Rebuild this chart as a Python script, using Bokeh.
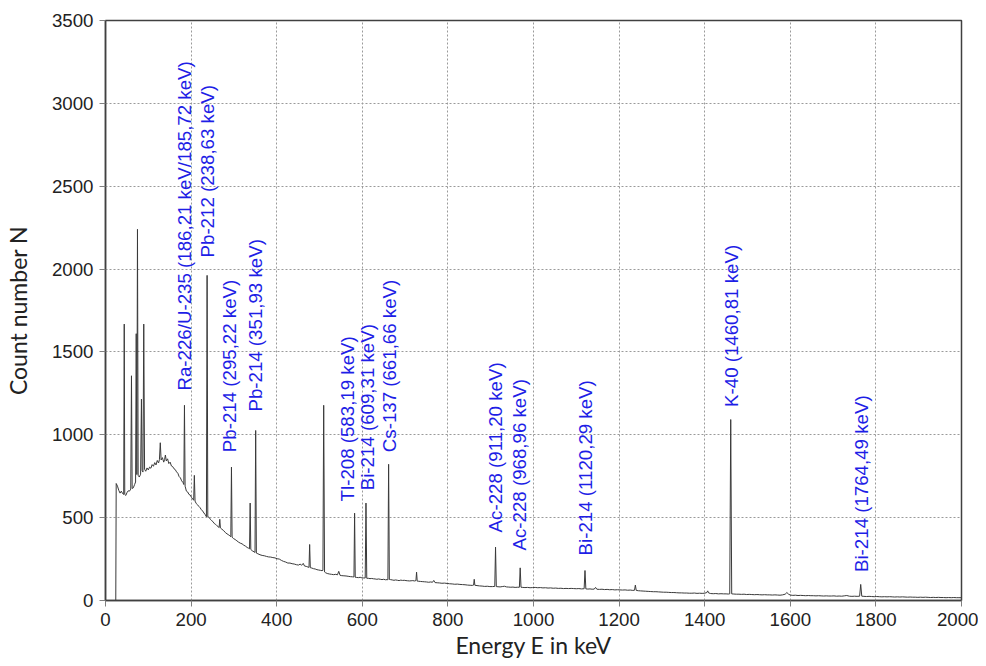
import math
from bokeh.plotting import figure
from bokeh.models import ColumnDataSource, Range1d, FixedTicker
from bokeh.core.properties import value
from bokeh.embed import file_html
from bokeh.resources import INLINE

# ---------------- data ----------------
# gamma spectrum: (energy in keV, count number)
spectrum = [
    (24, 0), (25, 706), (28, 690), (31, 665), (34, 648), (37, 660), (40, 645), (42.5, 640),
    (43.8, 1668), (45, 640), (47.5, 634), (50, 650), (53, 662), (56, 660), (59, 672),
    (60.7, 1356), (62.3, 676), (65, 680), (68, 700), (70.3, 715), (71.8, 1610), (73.2, 760),
    (74.7, 2240), (76.3, 755), (79, 745), (82, 762), (84, 1215), (85.5, 785), (87.5, 775),
    (89.4, 1668), (91.3, 792), (94, 780), (97, 800), (100, 788), (103, 805), (106, 798),
    (109, 820), (112, 810), (115, 832), (118, 818), (121, 845), (124, 830), (126, 850),
    (128, 952), (130, 848), (133, 862), (136, 835), (138, 850), (140, 878), (142, 842),
    (145, 855), (148, 826), (151, 835), (154, 812), (157, 808), (160, 795), (163, 790),
    (166, 776), (169, 768), (172, 748), (175, 740), (178, 722), (181, 712), (183, 700),
    (184.5, 1178), (186, 690), (189, 660), (192, 655), (195, 640), (198, 636), (201, 622),
    (204, 612), (206, 605), (207.6, 755), (209.2, 600), (212, 585), (215, 578), (218, 568),
    (221, 560), (224, 548), (227, 540), (230, 528), (233, 518), (235.8, 505), (237.4, 1962),
    (239, 505), (242, 502), (245, 490), (248, 482), (251, 476), (254, 465), (257, 460),
    (260, 452), (263, 446), (265.5, 440), (267, 490), (268.5, 438), (272, 430), (276, 422),
    (280, 410), (284, 402), (288, 396), (291, 388), (292.8, 385), (294.3, 805), (295.8, 382),
    (299, 374), (303, 368), (307, 360), (311, 352), (315, 346), (319, 342), (323, 334),
    (327, 328), (331, 320), (334, 316), (336.5, 312), (338, 588), (339.5, 308), (343, 300),
    (347, 294), (349.3, 290), (350.9, 1026), (352.5, 286), (356, 282), (361, 276), (366, 272),
    (371, 270), (376, 266), (381, 263), (386, 262), (391, 259), (396, 257), (401, 252),
    (406, 250), (411, 242), (416, 236), (421, 232), (426, 226), (431, 226), (436, 222),
    (441, 220), (446, 216), (451, 214), (455, 220), (458, 212), (462, 224), (465, 208),
    (469, 206), (473, 202), (475.5, 200), (477, 338), (478.5, 198), (482, 196), (486, 192),
    (490, 190), (494, 186), (498, 184), (502, 182), (506, 180), (508, 182), (509.8, 1178),
    (511.8, 172), (514, 168), (518, 163), (523, 160), (528, 158), (533, 156), (538, 158),
    (542, 155), (545, 176), (548, 152), (552, 150), (557, 149), (562, 148), (567, 146),
    (572, 144), (577, 143), (580.5, 142), (582, 527), (583.5, 140), (587, 139), (591, 138),
    (595, 140), (599, 137), (603, 136), (606.8, 136), (608.6, 588), (610.4, 134), (614, 134),
    (618, 132), (622, 133), (626, 131), (630, 130), (634, 128), (638, 130), (642, 128),
    (646, 126), (650, 128), (654, 125), (658, 126), (659.8, 125), (661.5, 822), (663.2, 127),
    (666, 126), (670, 124), (674, 122), (678, 124), (682, 122), (686, 120), (690, 123),
    (694, 121), (698, 122), (702, 120), (706, 119), (710, 118), (714, 119), (718, 120),
    (722, 118), (725.3, 120), (726.8, 171), (728.3, 117), (732, 116), (736, 115), (740, 114),
    (745, 113), (750, 112), (755, 110), (760, 112), (764, 110), (767, 121), (770, 108),
    (775, 107), (780, 106), (786, 104), (792, 105), (798, 103), (804, 101), (810, 100),
    (816, 98), (822, 99), (828, 97), (834, 96), (840, 95), (846, 93), (852, 92), (857, 91),
    (860, 93), (861.5, 128), (863, 92), (868, 90), (874, 88), (880, 87), (886, 85), (892, 86),
    (898, 84), (904, 84), (909.5, 85), (911.3, 322), (913.1, 84), (917, 83), (922, 82),
    (927, 84), (932, 86), (937, 82), (942, 81), (947, 80), (952, 81), (957, 79), (962, 80),
    (967, 80), (968.9, 197), (970.8, 80), (975, 79), (980, 78), (986, 79), (992, 77),
    (998, 78), (1004, 79), (1010, 77), (1016, 78), (1022, 76), (1028, 77), (1034, 75),
    (1040, 76), (1046, 74), (1052, 75), (1058, 73), (1064, 74), (1070, 72), (1076, 73),
    (1082, 72), (1088, 73), (1094, 72), (1100, 71), (1106, 72), (1112, 70), (1118.3, 71),
    (1120.3, 181), (1122.3, 70), (1127, 69), (1132, 70), (1137, 68), (1142, 69), (1145, 79),
    (1148, 68), (1154, 67), (1160, 68), (1166, 66), (1172, 67), (1178, 65), (1184, 66),
    (1190, 64), (1196, 65), (1202, 64), (1208, 63), (1214, 64), (1220, 62), (1226, 63),
    (1232, 61), (1236, 62), (1238, 93), (1240, 61), (1245, 59), (1250, 58), (1256, 57),
    (1262, 56), (1268, 55), (1274, 54), (1280, 53), (1286, 53), (1292, 52), (1298, 51),
    (1304, 50), (1310, 50), (1316, 49), (1322, 48), (1328, 48), (1334, 47), (1340, 46),
    (1346, 46), (1352, 45), (1358, 45), (1364, 44), (1370, 44), (1376, 45), (1382, 43),
    (1388, 44), (1394, 43), (1400, 44), (1405, 48), (1407, 58), (1409, 46), (1414, 42),
    (1420, 41), (1426, 42), (1432, 40), (1438, 41), (1444, 40), (1450, 40), (1455, 39),
    (1458.5, 40), (1460.8, 1092), (1463.1, 40), (1468, 39), (1474, 38), (1480, 38),
    (1486, 37), (1492, 38), (1498, 36), (1504, 37), (1510, 36), (1516, 35), (1522, 36),
    (1528, 35), (1534, 34), (1540, 35), (1546, 34), (1552, 34), (1558, 33), (1564, 34),
    (1570, 33), (1576, 32), (1582, 34), (1588, 38), (1592, 48), (1596, 38), (1600, 33),
    (1606, 31), (1612, 32), (1618, 30), (1624, 31), (1630, 30), (1636, 29), (1642, 30),
    (1648, 29), (1654, 29), (1660, 28), (1666, 29), (1672, 28), (1678, 27), (1684, 28),
    (1690, 27), (1696, 27), (1702, 28), (1708, 26), (1714, 27), (1720, 26), (1726, 28),
    (1732, 30), (1738, 26), (1744, 25), (1750, 26), (1756, 25), (1762, 26), (1764.5, 97),
    (1767, 26), (1772, 25), (1778, 24), (1784, 25), (1790, 24), (1796, 23), (1802, 24),
    (1808, 23), (1814, 22), (1820, 23), (1826, 22), (1832, 23), (1838, 22), (1844, 21),
    (1850, 22), (1856, 21), (1862, 22), (1868, 21), (1874, 20), (1880, 21), (1886, 20),
    (1892, 20), (1898, 19), (1904, 20), (1910, 19), (1916, 20), (1922, 19), (1928, 18),
    (1934, 19), (1940, 18), (1946, 19), (1952, 18), (1958, 18), (1964, 17), (1970, 18),
    (1976, 17), (1982, 18), (1988, 17), (1994, 17), (2000, 17),
]
energy_keV = [e for e, _ in spectrum]
counts = [n for _, n in spectrum]

# peak annotations
label_texts = [
    "Ra-226/U-235 (186,21 keV/185,72 keV)", "Pb-212 (238,63 keV)",
    "Pb-214 (295,22 keV)", "Pb-214 (351,93 keV)", "Tl-208 (583,19 keV)",
    "Bi-214 (609,31 keV)", "Cs-137 (661,66 keV)", "Ac-228 (911,20 keV)",
    "Ac-228 (968,96 keV)", "Bi-214 (1120,29 keV)", "K-40 (1460,81 keV)",
    "Bi-214 (1764,49 keV)",
]
label_energy = [185, 238, 290, 351, 565, 613, 664, 911, 968, 1122, 1462, 1766]
label_count = [1267, 2070, 895, 1140, 598, 665, 895, 411, 302, 272, 1168, 172]

x_ticks = list(range(0, 2001, 200))
y_ticks = list(range(0, 3501, 500))
x_title = "Energy E in keV"
y_title = "Count number N"

# ---------------- figure ----------------
p = figure(width=978, height=664, output_backend="svg", toolbar_location=None,
           x_range=Range1d(0, 2000), y_range=Range1d(0, 3500),
           min_border_left=104, min_border_right=17, min_border_top=20,
           min_border_bottom=64, background_fill_color="white")

p.line(energy_keV, counts, line_color="#3a3a3a", line_width=1)

src = ColumnDataSource(dict(x=label_energy, y=label_count, text=label_texts))
p.text(x="x", y="y", text="text", source=src, angle=math.pi / 2,
       text_font=value("Liberation Sans"), text_font_size=value("18.7px"),
       text_color="#1e1ee6", text_align="left", text_baseline="middle")

# axes
p.xaxis.ticker = FixedTicker(ticks=x_ticks)
p.yaxis.ticker = FixedTicker(ticks=y_ticks)
for ax in (p.xaxis, p.yaxis):
    ax.major_label_text_font = "Liberation Sans"
    ax.major_label_text_font_size = "18.7px"
    ax.major_label_text_color = "#222222"
    ax.axis_line_color = "#404040"
    ax.axis_line_width = 1.5
    ax.major_tick_line_color = "#808080"
    ax.major_tick_out = 6
    ax.major_tick_in = 0
    ax.minor_tick_line_color = None
    ax.major_label_standoff = 6
    ax.axis_label_text_font = "Lato"
    ax.axis_label_text_font_size = "23px"
    ax.axis_label_text_font_style = "normal"
    ax.axis_label_text_color = "#222222"

p.xaxis.axis_label = x_title
p.yaxis.axis_label = y_title
p.xaxis.axis_label_standoff = 2
p.yaxis.axis_label_standoff = 17

p.outline_line_color = "#404040"
p.outline_line_width = 1.5
p.outline_line_alpha = 1.0

p.xgrid.grid_line_color = "#9a9a9a"
p.ygrid.grid_line_color = "#9a9a9a"
p.xgrid.grid_line_dash = "2 2"
p.ygrid.grid_line_dash = "2 2"

open("out.html", "w").write(file_html(p, INLINE))
